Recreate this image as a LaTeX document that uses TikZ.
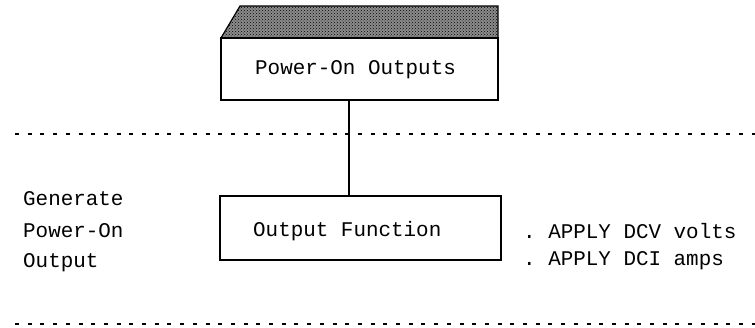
\documentclass[tikz,border=0pt]{standalone}
\usepackage{fontspec}
\setmonofont{Liberation Mono}
\usetikzlibrary{calc,patterns}
\begin{document}
\begin{tikzpicture}[x=1pt,y=-1pt,
  box/.style={draw, line width=1.4pt, inner sep=0pt},
  txt/.style={font=\ttfamily\fontsize{20.9}{24}\selectfont, inner sep=0pt, anchor=west},
  sep/.style={line width=1.8pt, dash pattern=on 4pt off 8.7pt},
  shade/.style={draw, line width=1.2pt, fill=black!45, postaction={pattern=crosshatch dots, pattern color=black}}]
\useasboundingbox (0,0) rectangle (755,327);
% shaded top face of the 3D box
\path[shade] (221,38) -- (240,6) -- (498,6) -- (498,38) -- cycle;
\node[box, fill=white, minimum width=277pt, minimum height=62pt] (top) at (359.5,69) {};
\node[txt] (toptxt) at (255,70) {Power-On Outputs};
\node[box, minimum width=281pt, minimum height=64pt] (bot) at (360.5,228) {};
\node[txt] (bottxt) at (253,231) {Output Function};
\coordinate (c) at (349,0);
\draw[line width=1.2pt] (top.south -| c) -- (bot.north -| c);
% separators
\coordinate (s1a) at (15,134);
\coordinate (s1b) at (755,134);
\coordinate (s2a) at (15,324);
\coordinate (s2b) at (755,324);
\draw[sep] (s1a) -- (s1b);
\draw[sep] (s2a) -- (s2b);
% left labels
\node[txt] (l1) at (23,199) {Generate};
\node[txt] (l2) at (23,231) {Power-On};
\node[txt] (l3) at (23,263) {Output};
% right labels
\node[txt] (r1) at (523,231) {. APPLY DCV volts};
\node[txt] (r2) at (523,261) {. APPLY DCI amps};
\end{tikzpicture}
\end{document}
